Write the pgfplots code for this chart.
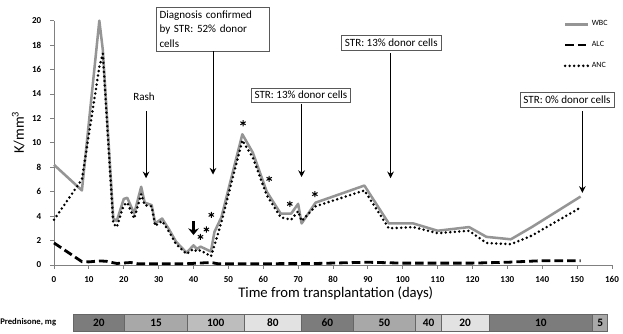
\documentclass[border=0pt]{standalone}
\usepackage{pgfplots}
\pgfplotsset{compat=1.18}
\usepackage{fontspec}
\setmainfont{Carlito}
\usetikzlibrary{arrows.meta}
\definecolor{wbc}{HTML}{959595}
\definecolor{pA}{HTML}{7C7C7C}
\definecolor{pB}{HTML}{A8A8A8}
\definecolor{pC}{HTML}{BDBDBD}
\definecolor{pD}{HTML}{E2E2E2}
\definecolor{pE}{HTML}{BEBEBE}
\begin{document}
\begin{tikzpicture}
\path[use as bounding box] (0,0) rectangle (467.25pt,-249.75pt);
\begin{axis}[
  at={(40.5pt,-15.5pt)}, anchor=north west,
  width=418.5pt, height=183.2pt, scale only axis,
  xmin=0, xmax=160, ymin=0, ymax=20,
  xtick={0,10,...,160}, ytick={0,2,...,20},
  axis x line*=bottom, axis y line*=left,
  axis line style={gray, line width=0.6pt, -},
  tick style={gray, line width=0.6pt},
  tick align=outside, major tick length=3pt,
  tick label style={font=\fontsize{6.8}{7}\selectfont\bfseries},
  /pgf/number format/assume math mode=true,
  xticklabel style={yshift=-2pt},
  yticklabel style={xshift=-3pt},
  clip=false,
  legend style={at={(0.913,1.012)}, anchor=north west, draw=none, fill=none,
    font=\fontsize{6}{7}\selectfont, row sep=6.2pt, inner sep=0pt},
  legend cell align=left,
  legend image code/.code={\draw[#1] (0pt,0pt) -- (17pt,0pt);},
]
% WBC
\addplot[wbc, line width=1.9pt, line join=round] coordinates {
(0,8.2)(8,6.1)(13,20)(14,17.6)(17,3.8)(18,3.6)(20,5.4)(21,5.5)(23,4.2)(25,6.4)(26,5.1)(28,4.9)(29,3.4)(31,3.8)(33,2.9)(35,1.9)(38,1.0)(40,1.6)(41,1.3)(42,1.5)(45,1.1)(46,2.7)(48,3.9)(54,10.7)(57,9.2)(61,6.0)(65,4.2)(68,4.2)(70,5.0)(71,3.4)(75,5.1)(89,6.5)(96,3.4)(103,3.4)(110,2.8)(119,3.1)(124,2.3)(131,2.1)(137,3.1)(151,5.6)};
\addlegendentry{WBC}
% ALC
\addplot[black, line width=2.1pt, dash pattern=on 6.5pt off 3pt] coordinates {
(0,1.8)(8,0.27)(10,0.25)(13,0.33)(15,0.3)(18,0.12)(22,0.2)(24,0.1)(30,0.1)(38,0.1)(45,0.2)(47,0.1)(60,0.1)(75,0.12)(90,0.22)(100,0.15)(120,0.15)(130,0.22)(140,0.35)(151,0.35)};
\addlegendentry{ALC}
% ANC
\addplot[black, line width=2.1pt, line cap=round, dash pattern=on 0pt off 3.4pt] coordinates {
(0,3.7)(8,7.0)(13,16.2)(14,17.3)(17,3.4)(18,3.1)(20,4.9)(21,5.1)(23,3.8)(25,5.8)(26,4.9)(28,4.8)(29,3.2)(31,3.6)(33,2.7)(35,1.7)(38,0.9)(40,1.3)(41,1.1)(42,1.2)(45,0.7)(46,1.6)(48,3.5)(54,10.2)(57,8.8)(61,5.7)(65,3.9)(68,3.7)(70,4.4)(71,3.6)(75,4.8)(89,6.1)(96,3.0)(103,3.1)(110,2.6)(119,2.8)(124,1.8)(131,1.7)(137,2.4)(151,4.7)};
\addlegendentry{ANC}
% asterisks
\addplot[only marks, mark=asterisk, mark size=2.3pt, line width=0.75pt, black, forget plot] coordinates {
(54.2,11.6)(61.7,7.05)(67.6,5.0)(74.8,5.8)(45.1,4.1)(43.7,2.9)(42,2.3)};
% annotations
\tikzset{ann/.style={draw=gray!70!black, fill=white, line width=0.5pt, font=\fontsize{8.3}{11}\selectfont, inner sep=2.5pt},
 arr/.style={line width=0.8pt, -{Stealth[length=5pt,width=5pt]}}}
\node[font=\fontsize{8.3}{11}\selectfont] at (axis cs:25.8,13.77) {Rash};
\draw[arr] (axis cs:26.4,12.6) -- (axis cs:26.4,7.1);
\node[ann, anchor=south west, align=left, text width=80pt] at (axis cs:29.2,17.5) {Diagnosis confirmed\\by STR: 52\% donor\\cells};
\draw[arr] (axis cs:45.6,17.5) -- (axis cs:45.6,7.4);
\node[ann] at (axis cs:70.8,13.9) {STR: 13\% donor cells};
\draw[arr] (axis cs:71,13.2) -- (axis cs:71,7.2);
\node[ann] at (axis cs:96.7,18.17) {STR: 13\% donor cells};
\draw[arr] (axis cs:96.5,17.35) -- (axis cs:96.5,7.1);
\node[ann] at (axis cs:147.1,13.52) {STR: 0\% donor cells};
\draw[arr] (axis cs:151.5,12.6) -- (axis cs:151.5,5.9);
\draw[line width=2pt, -{Stealth[length=5pt,width=8pt]}] (axis cs:40,3.6) -- (axis cs:40,2.45);
\end{axis}
% axis titles
\node[font=\fontsize{11}{13}\selectfont] at (251.8pt,-219.75pt) {Time from transplantation (days)};
\node[font=\fontsize{11}{13}\selectfont, rotate=90] at (13.7pt,-99.4pt) {K/mm\textsuperscript{3}};
% prednisone bar
\node[anchor=west, font=\fontsize{6.5}{7}\selectfont\bfseries, inner sep=0pt] at (0pt,-241.5pt) {Prednisone, mg};
\begin{axis}[
  at={(40.5pt,-235.5pt)}, anchor=north west,
  width=418.5pt, height=12.75pt, scale only axis,
  xmin=0, xmax=160, ymin=0, ymax=1, hide axis, clip=false,
]
\pgfplotsset{pb/.style={draw=gray!80!black, line width=0.5pt}}
\addplot[pb, fill=pA] coordinates {(5.4,1)(20.3,1)} \closedcycle;
\addplot[pb, fill=pB] coordinates {(20.3,1)(38.3,1)} \closedcycle;
\addplot[pb, fill=pC] coordinates {(38.3,1)(54.5,1)} \closedcycle;
\addplot[pb, fill=pD] coordinates {(54.5,1)(71,1)} \closedcycle;
\addplot[pb, fill=pA] coordinates {(71,1)(85.8,1)} \closedcycle;
\addplot[pb, fill=pB] coordinates {(85.8,1)(103.7,1)} \closedcycle;
\addplot[pb, fill=pE] coordinates {(103.7,1)(111.1,1)} \closedcycle;
\addplot[pb, fill=pD] coordinates {(111.1,1)(124.7,1)} \closedcycle;
\addplot[pb, fill=pA] coordinates {(124.7,1)(154.5,1)} \closedcycle;
\addplot[pb, fill=pB] coordinates {(154.5,1)(158.8,1)} \closedcycle;
\tikzset{pl/.style={font=\fontsize{8.5}{9}\selectfont\bfseries}}
\node[pl] at (axis cs:12.85,0.5) {20};
\node[pl] at (axis cs:29.3,0.5) {15};
\node[pl] at (axis cs:46.4,0.5) {100};
\node[pl] at (axis cs:62.75,0.5) {80};
\node[pl] at (axis cs:78.4,0.5) {60};
\node[pl] at (axis cs:94.75,0.5) {50};
\node[pl] at (axis cs:107.4,0.5) {40};
\node[pl] at (axis cs:117.9,0.5) {20};
\node[pl] at (axis cs:139.6,0.5) {10};
\node[pl] at (axis cs:156.65,0.5) {5};
\end{axis}
\end{tikzpicture}
\end{document}
